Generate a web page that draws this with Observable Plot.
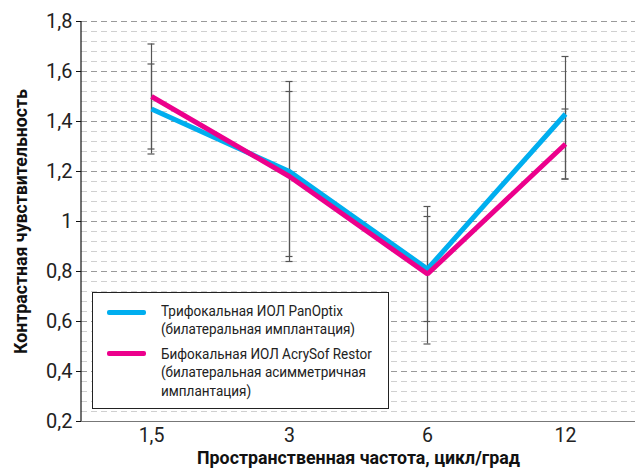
<!DOCTYPE html>
<html><head><meta charset="utf-8">
<script src="https://cdn.jsdelivr.net/npm/d3@7"></script>
<script src="https://cdn.jsdelivr.net/npm/@observablehq/plot@0.6"></script>
<style>
body{margin:0;background:#fff;}
#wrap{position:relative;width:635px;height:472px;font-family:Roboto,"Liberation Sans",sans-serif;}
#legend{position:absolute;left:92px;top:292px;width:295px;height:115px;border:1px solid #222;background:#fff;font-size:15.5px;color:#222;}
.entry{position:absolute;left:68px;line-height:18.3px;white-space:nowrap;transform-origin:0 0;}
.sw{position:absolute;left:14px;width:39px;height:5px;border-radius:2px;}
</style></head>
<body><div id="wrap"></div>
<script>
const freqs = ["1,5", "3", "6", "12"];
const panoptix = [1.45, 1.20, 0.81, 1.43];
const panoptixLow = [1.27, 0.84, 0.60, 1.17];
const panoptixHigh = [1.63, 1.56, 1.02, 1.66];
const restor = [1.50, 1.18, 0.79, 1.31];
const restorLow = [1.29, 0.86, 0.51, 1.17];
const restorHigh = [1.71, 1.52, 1.06, 1.45];
const yTicks = [0.2, 0.4, 0.6, 0.8, 1, 1.2, 1.4, 1.6, 1.8];
const seriesNames = ["Трифокальная ИОЛ PanOptix (билатеральная имплантация)", "Бифокальная ИОЛ AcrySof Restor (билатеральная асимметричная имплантация)"];
const colors = ["#00AEEF", "#EC008C"];
const xTitle = "Пространственная частота, цикл/град";
const yTitle = "Контрастная чувствительность";

const rows = [];
freqs.forEach((f, i) => {
  rows.push({f, s: seriesNames[0], v: panoptix[i], lo: panoptixLow[i], hi: panoptixHigh[i]});
  rows.push({f, s: seriesNames[1], v: restor[i], lo: restorLow[i], hi: restorHigh[i]});
});
const minor = d3.range(1, 40).map(k => 0.2 + k * 0.04).filter(v => Math.abs(v * 5 - Math.round(v * 5)) > 1e-6 && v < 1.8);
const major = yTicks.filter(v => v > 0.2);
const font = 'Roboto,"Liberation Sans",sans-serif';

const plot = Plot.plot({
  width: 635, height: 472,
  marginLeft: 81, marginRight: 0, marginTop: 21, marginBottom: 51,
  style: {fontFamily: font, background: "#fff"},
  x: {type: "point", domain: freqs, padding: 0.5, axis: null},
  y: {domain: [0.2, 1.8], axis: null},
  color: {domain: seriesNames, range: colors},
  marks: [
    Plot.ruleY(minor, {stroke: "#d0d0d0", strokeWidth: 1, strokeDasharray: "6,4"}),
    Plot.ruleY(major, {stroke: "#9a9a9a", strokeWidth: 1, strokeDasharray: "6,4"}),
    Plot.ruleY([0.2], {stroke: "#777", strokeWidth: 1.2}),
    Plot.axisY({ticks: yTicks, tickSize: 5, tickPadding: 4, fontSize: 20, tickFormat: d => String(d).replace(".", ","), label: null, stroke: "#111", fill: "#222"}),
    Plot.axisX({tickSize: 0, tickPadding: 7, fontSize: 19.5, label: null, fill: "#222"}),
    Plot.ruleX(rows, {x: "f", y1: "lo", y2: "hi", stroke: "#555", strokeWidth: 1.2}),
    Plot.ruleY(rows, {x1: "f", x2: "f", y: "lo", stroke: "#555", strokeWidth: 1.2, insetLeft: -3.5, insetRight: -3.5}),
    Plot.ruleY(rows, {x1: "f", x2: "f", y: "hi", stroke: "#555", strokeWidth: 1.2, insetLeft: -3.5, insetRight: -3.5}),
    Plot.line(rows, {x: "f", y: "v", z: "s", stroke: "s", strokeWidth: 5, strokeLinejoin: "miter", strokeLinecap: "butt"}),
    Plot.text([xTitle], {frameAnchor: "bottom", dy: 42.5, text: d => d, fontSize: 19, fontWeight: "bold", fill: "#111", className: "xtitle"}),
    Plot.text([yTitle], {frameAnchor: "left", textAnchor: "middle", dx: -61, rotate: -90, text: d => d, fontSize: 19, fontWeight: "bold", fill: "#111", className: "ytitle"})
  ]
});
const svg = d3.select(plot);
const yr = plot.scale("y").range;
svg.append("line").attr("x1", 81).attr("x2", 81).attr("y1", yr[0]).attr("y2", yr[1]).attr("stroke", "#111").attr("stroke-width", 1.2);
svg.selectAll("g.xtitle text").attr("textLength", 323).attr("lengthAdjust", "spacingAndGlyphs");
svg.selectAll("g.ytitle text").attr("textLength", 265).attr("lengthAdjust", "spacingAndGlyphs");

const wrap = document.getElementById("wrap");
wrap.appendChild(plot);
const legend = document.createElement("div");
legend.id = "legend";
legend.innerHTML = `
<div class="sw" style="top:17px;background:${colors[0]}"></div>
<div class="entry" style="top:9px"><span id="l1">Трифокальная ИОЛ PanOptix</span><br>(билатеральная имплантация)</div>
<div class="sw" style="top:58px;background:${colors[1]}"></div>
<div class="entry" style="top:52px">Бифокальная ИОЛ AcrySof Restor<br>(билатеральная асимметричная<br>имплантация)</div>`;
wrap.appendChild(legend);
const w1 = document.getElementById("l1").getBoundingClientRect().width;
const sc = 182 / w1;
legend.querySelectorAll(".entry").forEach(e => e.style.transform = `scaleX(${sc})`);
</script>
</body></html>
